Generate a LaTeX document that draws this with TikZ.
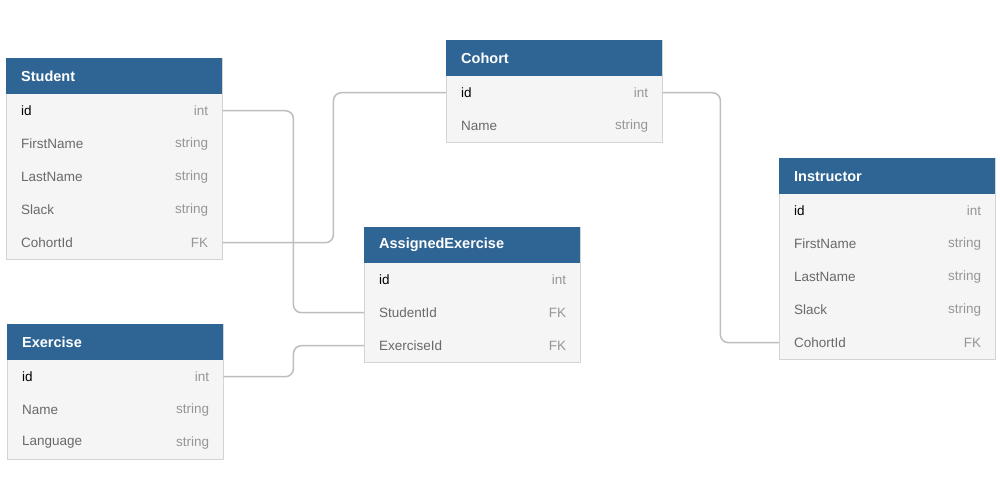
\documentclass[tikz,border=0pt]{standalone}
\usepackage{fontspec}
\setmainfont{Liberation Sans}
\definecolor{hdrblue}{RGB}{47,101,148}
\definecolor{bodyfill}{RGB}{245,245,245}
\definecolor{bodyline}{RGB}{212,212,212}
\definecolor{namegray}{RGB}{105,105,105}
\definecolor{typegray}{RGB}{150,150,150}
\definecolor{conngray}{RGB}{190,190,190}
\tikzset{
  hdr/.style={rectangle, fill=hdrblue, anchor=north west, inner xsep=15pt, inner ysep=0pt,
    text width=186pt, minimum height=36pt, align=left, text=white,
    font=\fontsize{14.5}{17}\selectfont\bfseries},
  rowbox/.style={rectangle, anchor=north west, minimum width=216pt, minimum height=33pt, inner sep=0pt},
  fname/.style={anchor=west, xshift=15pt, inner sep=0pt, font=\fontsize{13.5}{16}\selectfont},
  ftype/.style={anchor=east, xshift=-14pt, inner sep=0pt, text=typegray, font=\fontsize{13.5}{16}\selectfont},
  body/.style={fill=bodyfill, draw=bodyline, line width=0.9pt},
  conn/.style={draw=conngray, line width=1.5pt, rounded corners=8pt}
}
\newcommand\ertable[6]{%
  \draw[body] (#2,#3) rectangle ++(216,{36+#5*33});
  \node[hdr] (#1) at (#2,#3) {#4};
  \foreach \fn/\ft [count=\i] in {#6} {
    \ifnum\i=1 \def\fc{black}\else\def\fc{namegray}\fi
    \node[rowbox] (#1-\i) at (#2,{#3+36+(\i-1)*33}) {};
    \node[fname, text=\fc] at (#1-\i.west) {\fn};
    \node[ftype] at (#1-\i.east) {\ft};
  }
}
\begin{document}
\begin{tikzpicture}[x=1pt,y=-1pt]
\useasboundingbox[fill=white] (0,0) rectangle (1000,500);

\ertable{student}{6}{58}{Student}{5}{id/int, FirstName/string, LastName/string, Slack/string, CohortId/FK}
\ertable{cohort}{446}{40}{Cohort}{2}{id/int, Name/string}
\ertable{ae}{364}{227}{AssignedExercise}{3}{id/int, StudentId/FK, ExerciseId/FK}
\ertable{instructor}{779}{158}{Instructor}{5}{id/int, FirstName/string, LastName/string, Slack/string, CohortId/FK}
\ertable{exercise}{7}{324}{Exercise}{3}{id/int, Name/string, Language/string}

\draw[conn] (student-1.east) -- ([xshift=71pt]student-1.east) |- (ae-2.west);
\draw[conn] (student-5.east) -- ([xshift=111pt]student-5.east) |- (cohort-1.west);
\draw[conn] (cohort-1.east) -- ([xshift=58pt]cohort-1.east) |- (instructor-5.west);
\draw[conn] (exercise-1.east) -- ([xshift=70pt]exercise-1.east) |- (ae-3.west);
\end{tikzpicture}
\end{document}
